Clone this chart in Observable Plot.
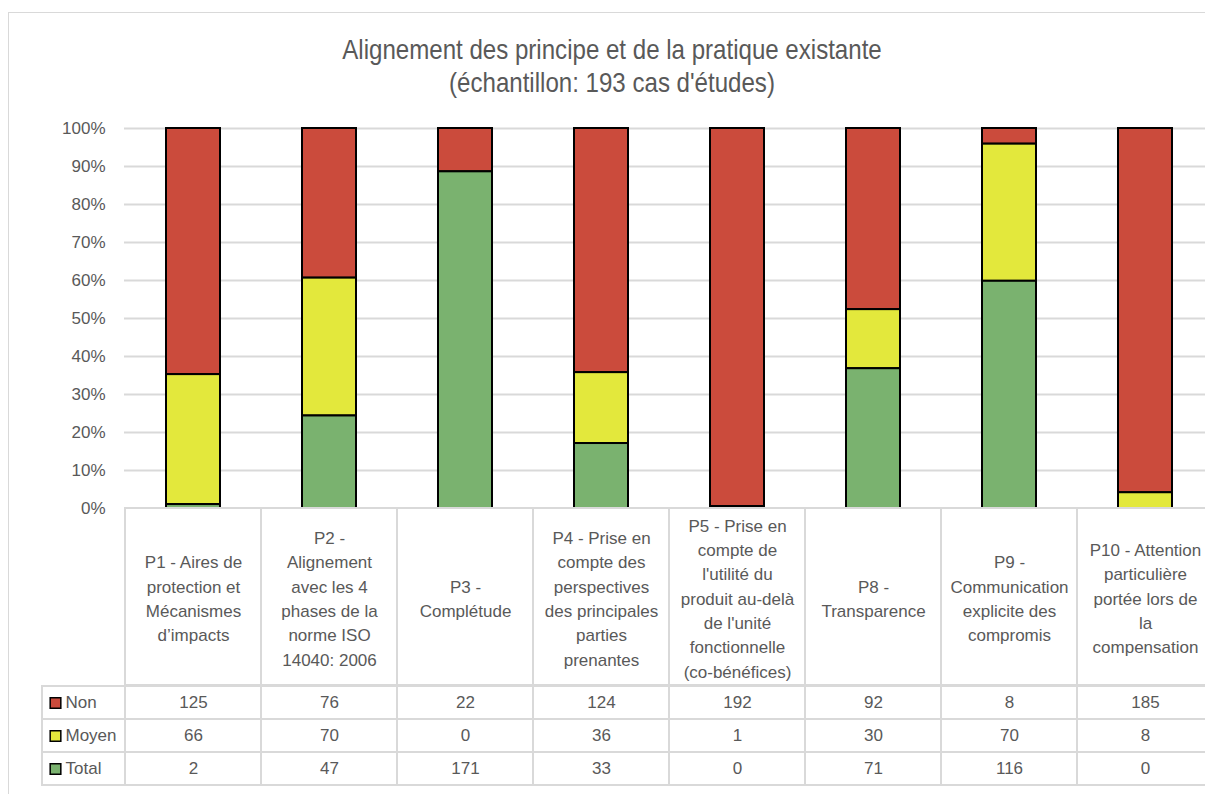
<!DOCTYPE html>
<html>
<head>
<meta charset="utf-8">
<script src="https://cdn.jsdelivr.net/npm/d3@7"></script>
<script src="https://cdn.jsdelivr.net/npm/@observablehq/plot@0.6"></script>
<style>
  html, body { margin: 0; padding: 0; background: #fff; overflow: hidden; width: 1205px; height: 794px; }
  body { font-family: "Liberation Sans", Arial, sans-serif; }
  #wrap { position: relative; width: 1205px; height: 794px; overflow: hidden; }
  #frame { position: absolute; left: 8px; top: 12px; width: 1300px; height: 900px; border: 1.5px solid #d9d9d9; box-sizing: border-box; }
  #title { position: absolute; left: 0; width: 1224px; top: 33px; text-align: center; font-size: 28px; line-height: 33px; color: #595959; transform: scaleX(0.86); transform-origin: 612px 0; white-space: nowrap; }
  .layer { position: absolute; }
</style>
</head>
<body>
<div id="wrap">
<div id="frame"></div>
<div id="title">Alignement des principe et de la pratique existante<br>(échantillon: 193 cas d'études)</div>
<div id="bars" class="layer" style="left:0; top:110px;"></div>
<div id="head" class="layer" style="left:0; top:508px;"></div>
<div id="body" class="layer" style="left:0; top:685px;"></div>
<div id="legend" class="layer" style="left:42px; top:685px;"></div>
</div>
<script>
// ---- data ----
const categoryKeys = ["P1", "P2", "P3", "P4", "P5", "P8", "P9", "P10"];
const categoryLabels = [
  "P1 - Aires de\nprotection et\nMécanismes\nd’impacts",
  "P2 -\nAlignement\navec les 4\nphases de la\nnorme ISO\n14040: 2006",
  "P3 -\nComplétude",
  "P4 - Prise en\ncompte des\nperspectives\ndes principales\nparties\nprenantes",
  "P5 - Prise en\ncompte de\nl'utilité du\nproduit au-delà\nde l'unité\nfonctionnelle\n(co-bénéfices)",
  "P8 -\nTransparence",
  "P9 -\nCommunication\nexplicite des\ncompromis",
  "P10 - Attention\nparticulière\nportée lors de\nla\ncompensation"
];
const seriesNames = ["Non", "Moyen", "Total"];
const nonValues = [125, 76, 22, 124, 192, 92, 8, 185];
const moyenValues = [66, 70, 0, 36, 1, 30, 70, 8];
const totalValues = [2, 47, 171, 33, 0, 71, 116, 0];
const yTicks = [0, 0.1, 0.2, 0.3, 0.4, 0.5, 0.6, 0.7, 0.8, 0.9, 1.0];

// ---- styles ----
const seriesColors = ["#cb4b3c", "#e3e83c", "#7ab26f"];
const textColor = "#595959";
const gridColor = "#d9d9d9";
const font = "'Liberation Sans', Arial, sans-serif";

const valuesBySeries = { Non: nonValues, Moyen: moyenValues, Total: totalValues };
const labelOf = new Map(categoryKeys.map((k, i) => [k, categoryLabels[i]]));
const table = [];
for (const s of seriesNames) {
  categoryKeys.forEach((k, i) => table.push({ key: k, series: s, value: valuesBySeries[s][i] }));
}

const W = 1213, ML = 125;
const baseStyle = { background: "transparent", overflow: "visible", maxWidth: "none", color: textColor, fontFamily: font, fontSize: "17px" };

// ---- bar chart ----
const bars = Plot.plot({
  width: W, height: 398,
  marginTop: 18, marginBottom: 0, marginLeft: ML, marginRight: 0,
  style: baseStyle,
  x: { domain: categoryKeys, paddingInner: 0.6, paddingOuter: 0.3, axis: null },
  y: { domain: [0, 1], axis: null },
  color: { domain: seriesNames, range: seriesColors },
  marks: [
    Plot.ruleY(yTicks.slice(1), { stroke: gridColor, strokeWidth: 2, insetLeft: -1 }),
    Plot.axisY({ ticks: yTicks, tickFormat: d3.format(".0%"), tickSize: 0, tickPadding: 20, label: null, fontSize: 17 }),
    Plot.barY(table.filter(d => d.value > 0), Plot.stackY({
      x: "key", y: "value", fill: "series", z: "series",
      order: ["Total", "Moyen", "Non"], offset: "normalize",
      stroke: "black", strokeWidth: 2
    }))
  ]
});
document.getElementById("bars").appendChild(bars);

// ---- table header ----
const head = Plot.plot({
  width: W, height: 177,
  marginTop: 0, marginBottom: 0, marginLeft: ML, marginRight: 0,
  style: baseStyle,
  x: { domain: categoryKeys, padding: 0, axis: null },
  marks: [
    Plot.cell(categoryKeys, { x: d => d, fill: "none", stroke: gridColor, strokeWidth: 2 }),
    Plot.text(categoryKeys, { x: d => d, text: d => labelOf.get(d), fontSize: 17, lineHeight: 1.43, fill: textColor })
  ]
});
document.getElementById("head").appendChild(head);

// ---- table body ----
const body = Plot.plot({
  width: W, height: 100,
  marginTop: 0, marginBottom: 0, marginLeft: ML, marginRight: 0,
  style: baseStyle,
  x: { domain: categoryKeys, padding: 0, axis: null },
  y: { domain: seriesNames, padding: 0, axis: null },
  marks: [
    Plot.cell(table, { x: "key", y: "series", fill: "none", stroke: gridColor, strokeWidth: 2 }),
    Plot.text(table, { x: "key", y: "series", text: d => String(d.value), fontSize: 17, fill: textColor })
  ]
});
document.getElementById("body").appendChild(body);

// ---- legend column ----
const legend = Plot.plot({
  width: 83, height: 100,
  marginTop: 0, marginBottom: 0, marginLeft: 0, marginRight: 0,
  style: baseStyle,
  y: { domain: seriesNames, padding: 0, axis: null },
  color: { domain: seriesNames, range: seriesColors },
  marks: [
    Plot.cell(seriesNames, { y: d => d, fill: "none", stroke: gridColor, strokeWidth: 2 }),
    Plot.dot(seriesNames, { y: d => d, frameAnchor: "left", dx: 13, symbol: "square", r: 6, fill: d => d, stroke: "black", strokeWidth: 1.5 }),
    Plot.text(seriesNames, { y: d => d, frameAnchor: "left", dx: 23, textAnchor: "start", text: d => d, fontSize: 17, fill: textColor })
  ]
});
document.getElementById("legend").appendChild(legend);
</script>
</body>
</html>
